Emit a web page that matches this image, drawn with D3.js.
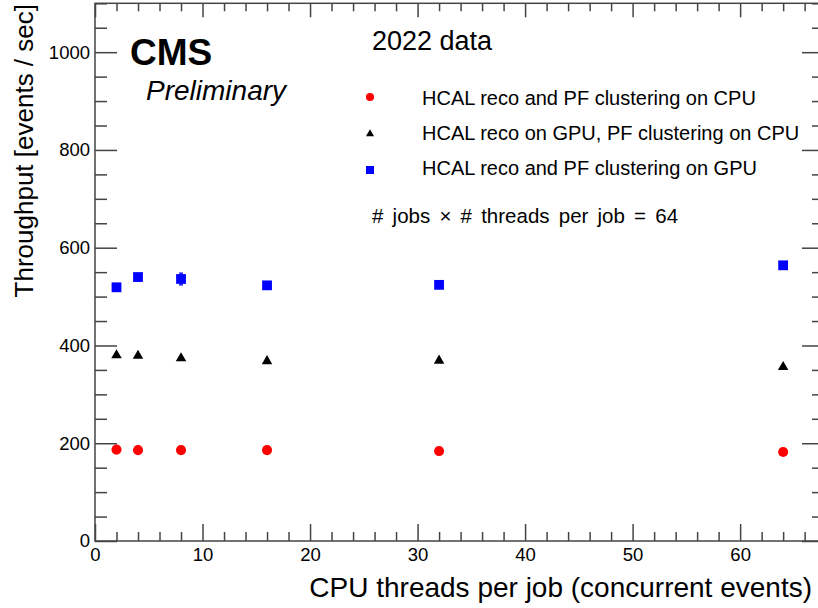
<!DOCTYPE html>
<html>
<head>
<meta charset="utf-8">
<script src="https://cdn.jsdelivr.net/npm/d3@7"></script>
<style>
  body { margin: 0; background: #fff; }
  svg text { font-family: "Liberation Sans", Arial, Helvetica, sans-serif; fill: #000; }
</style>
</head>
<body>
<div id="chart"></div>
<script>
// Data
const threads = [2, 4, 8, 16, 32, 64];
const cpuOnly = [187, 186, 186, 186, 184, 182];
const hcalGpu = [382, 381, 376, 370, 371, 358];
const allGpu = [519, 540, 536, 523, 524, 564];
const allGpuErr = [3, 3, 12, 3, 3, 3];

const seriesNames = [
  "HCAL reco and PF clustering on CPU",
  "HCAL reco on GPU, PF clustering on CPU",
  "HCAL reco and PF clustering on GPU"
];
const seriesColors = ["#ff0000", "#000000", "#0000ff"];
const seriesShapes = ["circle", "triangle", "square"];

const xMajor = [0, 10, 20, 30, 40, 50, 60];
const xMinor = d3.range(0, 68, 2);
const yMajor = [0, 200, 400, 600, 800, 1000];
const yMinor = d3.range(0, 1101, 50);

const W = 818, H = 608;
const frame = { left: 95, right: 824, top: 3.3, bottom: 541 };
const axisColor = "#444";

const svg = d3.select("#chart").append("svg")
  .attr("width", W).attr("height", H);

const x = d3.scaleLinear().domain([0, 67.8]).range([frame.left, frame.right]);
const y = d3.scaleLinear().domain([0, 1100]).range([frame.bottom, frame.top]);

// frame
svg.append("rect")
  .attr("x", frame.left).attr("y", frame.top)
  .attr("width", frame.right - frame.left)
  .attr("height", frame.bottom - frame.top)
  .attr("fill", "none").attr("stroke", axisColor).attr("stroke-width", 1.5);

function styleAxis(g) {
  g.select(".domain").remove();
  g.selectAll(".tick line").attr("stroke", axisColor).attr("stroke-width", 1.5);
  g.selectAll(".tick text")
    .style("font-family", '"Liberation Sans", Arial, sans-serif')
    .style("font-size", "18.5px").attr("fill", "#000");
}

// bottom axis: labels + major ticks, then minor ticks
svg.append("g").attr("transform", `translate(0,${frame.bottom})`)
  .call(d3.axisBottom(x).tickValues(xMajor).tickSize(-17).tickPadding(7).tickFormat(d3.format("d")))
  .call(styleAxis);
svg.append("g").attr("transform", `translate(0,${frame.bottom})`)
  .call(d3.axisBottom(x).tickValues(xMinor.filter(v => v % 10)).tickSize(-9).tickFormat(""))
  .call(styleAxis);
// top axis
svg.append("g").attr("transform", `translate(0,${frame.top})`)
  .call(d3.axisTop(x).tickValues(xMajor).tickSize(-14).tickFormat(""))
  .call(styleAxis);
svg.append("g").attr("transform", `translate(0,${frame.top})`)
  .call(d3.axisTop(x).tickValues(xMinor.filter(v => v % 10)).tickSize(-8).tickFormat(""))
  .call(styleAxis);

// left axis
svg.append("g").attr("transform", `translate(${frame.left},0)`)
  .call(d3.axisLeft(y).tickValues(yMajor).tickSize(-22).tickPadding(5).tickFormat(d3.format("d")))
  .call(styleAxis);
svg.append("g").attr("transform", `translate(${frame.left},0)`)
  .call(d3.axisLeft(y).tickValues(yMinor.filter(v => v % 200)).tickSize(-12).tickFormat(""))
  .call(styleAxis);
// right axis
svg.append("g").attr("transform", `translate(${frame.right},0)`)
  .call(d3.axisRight(y).tickValues(yMajor).tickSize(-22).tickFormat(""))
  .call(styleAxis);
svg.append("g").attr("transform", `translate(${frame.right},0)`)
  .call(d3.axisRight(y).tickValues(yMinor.filter(v => v % 200)).tickSize(-12).tickFormat(""))
  .call(styleAxis);

// axis titles
svg.append("text")
  .attr("x", 812).attr("y", 597)
  .attr("text-anchor", "end")
  .style("font-size", "28px")
  .text("CPU threads per job (concurrent events)");

svg.append("text")
  .attr("transform", "translate(33,4) rotate(-90)")
  .attr("text-anchor", "end")
  .style("font-size", "26px")
  .text("Throughput [events / sec]");

// marker drawing
const symbolType = { circle: d3.symbolCircle, triangle: d3.symbolTriangle, square: d3.symbolSquare };
function marker(sel, shape, size, color) {
  sel.append("path")
    .attr("d", d3.symbol().type(symbolType[shape]).size(size)())
    .attr("fill", color);
}
const markerSize = { circle: 80, triangle: 48, square: 96 };

const seriesValues = [cpuOnly, hcalGpu, allGpu];
const seriesErrors = [null, null, allGpuErr];

seriesValues.forEach((vals, si) => {
  const g = svg.append("g");
  const pts = threads.map((t, i) => ({ t, v: vals[i], e: seriesErrors[si] ? seriesErrors[si][i] : 0 }));
  // error bars
  g.selectAll("line.err").data(pts.filter(d => d.e > 0)).enter()
    .append("line")
    .attr("x1", d => x(d.t)).attr("x2", d => x(d.t))
    .attr("y1", d => y(d.v - d.e)).attr("y2", d => y(d.v + d.e))
    .attr("stroke", seriesColors[si]).attr("stroke-width", 1.2);
  g.selectAll("line.cap").data(pts.filter(d => d.e > 0)).enter()
    .append("path")
    .attr("d", d => `M${x(d.t) - 2},${y(d.v - d.e)}H${x(d.t) + 2}M${x(d.t) - 2},${y(d.v + d.e)}H${x(d.t) + 2}`)
    .attr("stroke", seriesColors[si]).attr("stroke-width", 1.2);
  const m = g.selectAll("g.pt").data(pts).enter().append("g")
    .attr("transform", d => `translate(${x(d.t)},${y(d.v) + (seriesShapes[si] === "triangle" ? 1 : 0)})`);
  m.each(function() { marker(d3.select(this), seriesShapes[si], markerSize[seriesShapes[si]], seriesColors[si]); });
});

// CMS labels
svg.append("text").attr("x", 130).attr("y", 65)
  .style("font-size", "37px").style("font-weight", "bold").text("CMS");
svg.append("text").attr("x", 146).attr("y", 100)
  .style("font-size", "28px").style("font-style", "italic").text("Preliminary");
svg.append("text").attr("x", 372).attr("y", 50)
  .style("font-size", "27px").text("2022 data");

// legend
const legendY = [97, 134, 170];
const legendSize = { circle: 52, triangle: 28, square: 64 };
seriesNames.forEach((name, i) => {
  const g = svg.append("g").attr("transform", `translate(370,${legendY[i]})`);
  marker(g, seriesShapes[i], legendSize[seriesShapes[i]], seriesColors[i]);
  svg.append("text").attr("x", 422).attr("y", 105 + i * 35)
    .style("font-size", "20px").text(name);
});

svg.append("text").attr("x", 372).attr("y", 223)
  .style("font-size", "20.5px").style("word-spacing", "3.5px")
  .text("# jobs \u00d7 # threads per job = 64");
</script>
</body>
</html>
